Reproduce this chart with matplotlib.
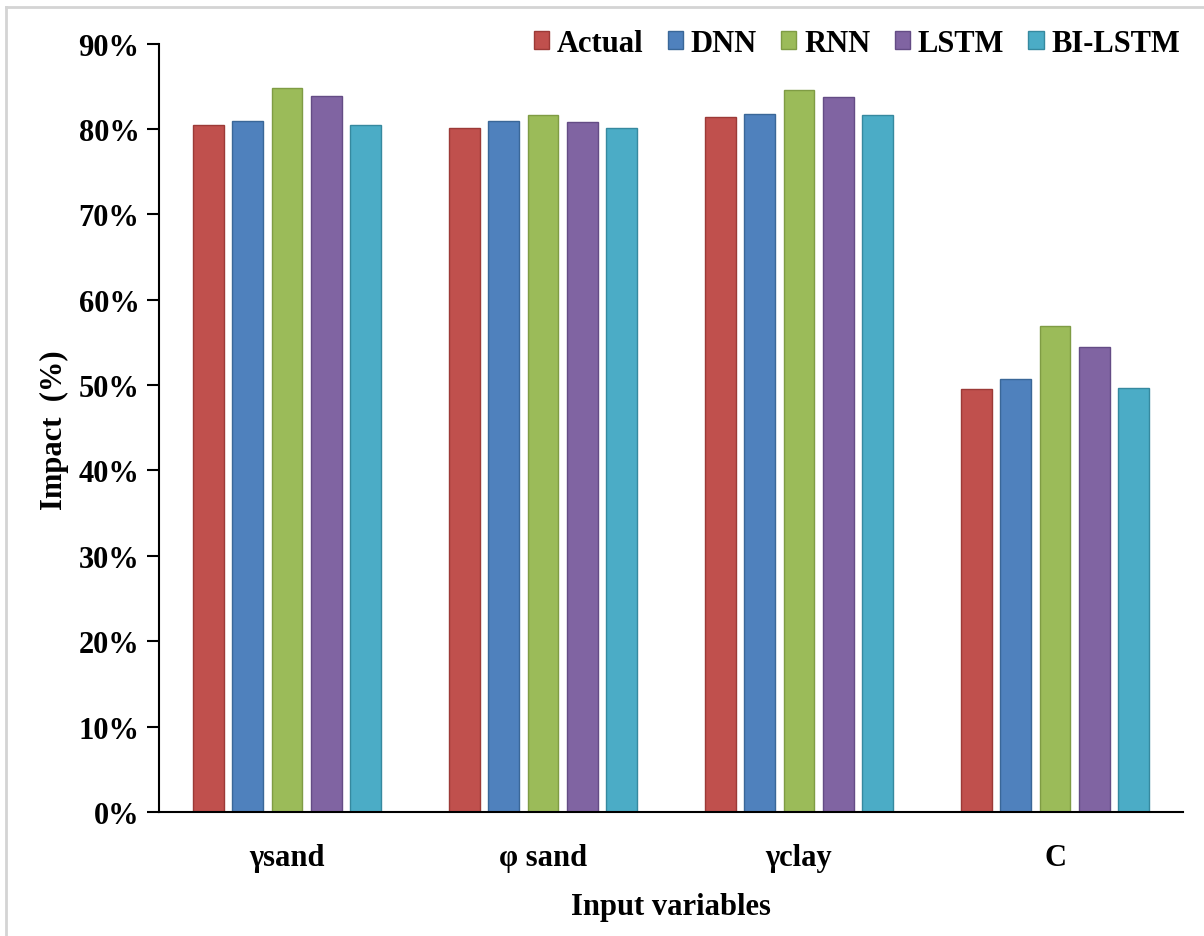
import numpy as np
import matplotlib
matplotlib.use("Agg")
import matplotlib.pyplot as plt
from matplotlib.lines import Line2D

# Data (impact in %)
categories = ["γsand", "φ sand", "γclay", "C"]
models = ["Actual", "DNN", "RNN", "LSTM", "BI-LSTM"]
actual = [80.4, 80.05, 81.45, 49.5]
dnn = [80.9, 80.9, 81.75, 50.7]
rnn = [84.8, 81.6, 84.6, 56.9]
lstm = [83.85, 80.75, 83.7, 54.5]
bi_lstm = [80.4, 80.05, 81.6, 49.6]

colors = ["#C0504D", "#4F81BD", "#9BBB59", "#8064A2", "#4BACC6"]
edges = ["#9C3A37", "#3A6798", "#7F9C44", "#644C85", "#36899F"]

plt.rcParams["font.family"] = ["Liberation Serif", "DejaVu Serif"]
plt.rcParams["font.weight"] = "bold"

fig = plt.figure(figsize=(12.04, 9.37), dpi=100)
ax = fig.add_axes([159 / 1204, 1 - 813 / 937, (1183 - 159) / 1204, (813 - 44.5) / 937])

series = [actual, dnn, rnn, lstm, bi_lstm]
x = np.arange(len(categories))
step = 0.154
width = 0.121
for i, (vals, name) in enumerate(zip(series, models)):
    ax.bar(x + (i - 2) * step, vals, width, color=colors[i], edgecolor=edges[i],
           linewidth=1.0, label=name, zorder=2)

ax.set_xlim(-0.5, 3.5)
ax.set_ylim(0, 90)
ax.set_yticks(np.arange(0, 91, 10))
ax.set_yticklabels([f"{v}%" for v in range(0, 91, 10)])
ax.set_xticks(x)
ax.set_xticklabels(categories)
ax.tick_params(axis="y", labelsize=22, length=9, width=1.5, direction="out", pad=5)
ax.tick_params(axis="x", labelsize=22, length=0, pad=22)
for lbl in ax.get_xticklabels() + ax.get_yticklabels():
    lbl.set_fontweight("bold")

ax.spines["top"].set_visible(False)
ax.spines["right"].set_visible(False)
ax.spines["left"].set_linewidth(1.5)
ax.spines["bottom"].set_linewidth(1.5)

fig.text(54 / 1204, 1 - 430 / 937, "Impact  (%)", rotation=90, ha="center", va="center",
         fontsize=22, fontweight="bold")
fig.text(671 / 1204, 1 - 908 / 937, "Input variables", ha="center", va="center",
         fontsize=22, fontweight="bold")

leg = ax.legend(loc="center right", bbox_to_anchor=(0.997, 1.0), ncol=5, frameon=False,
                fontsize=22, handlelength=0.5, handleheight=0.55, handletextpad=0.25,
                columnspacing=0.8, borderaxespad=0.0, borderpad=0.0)
for t in leg.get_texts():
    t.set_fontweight("bold")

# light gray frame on left and top edges, as in the reference crop
fig.add_artist(Line2D([6 / 1204, 6 / 1204], [0, 1 - 8 / 937], transform=fig.transFigure,
                      color="#d4d4d4", linewidth=2))
fig.add_artist(Line2D([6 / 1204, 1], [1 - 8 / 937, 1 - 8 / 937], transform=fig.transFigure,
                      color="#d4d4d4", linewidth=2))

fig.savefig("out.png", dpi=100)
